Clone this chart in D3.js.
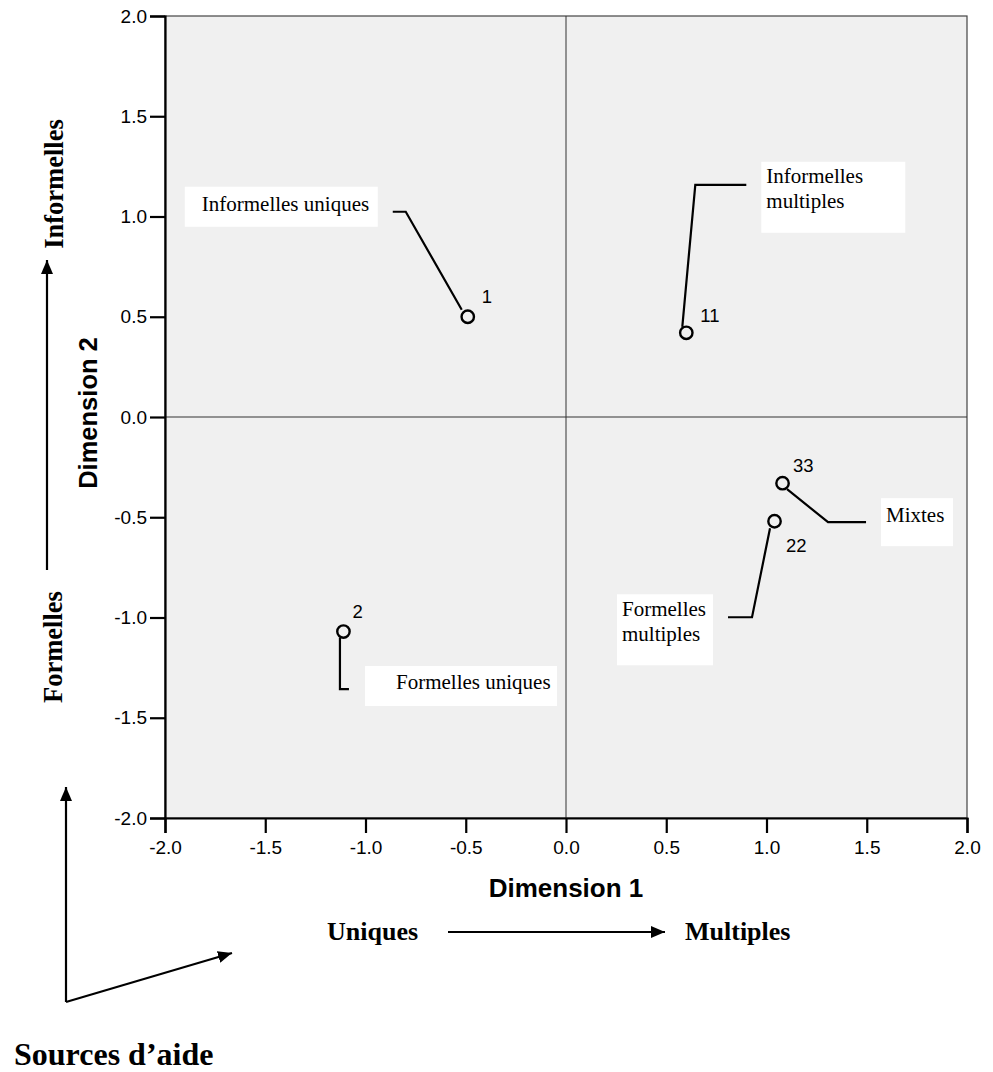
<!DOCTYPE html>
<html>
<head>
<meta charset="utf-8">
<script src="https://cdn.jsdelivr.net/npm/d3@7/dist/d3.min.js"></script>
<style>
  html, body { margin: 0; padding: 0; background: #fff; }
  svg { display: block; }
</style>
</head>
<body>
<svg id="chart" width="993" height="1072"></svg>
<script>
// Category point coordinates on the two dimensions
const pointIds = ["1", "11", "33", "22", "2"];
const dim1 = [-0.49, 0.60, 1.08, 1.04, -1.11];
const dim2 = [0.50, 0.42, -0.33, -0.52, -1.07];

// Category names shown in the callout boxes
const groupNames = [
  ["Informelles uniques"],
  ["Informelles", "multiples"],
  ["Mixtes"],
  ["Formelles", "multiples"],
  ["Formelles uniques"]
];

const tickValues = [-2.0, -1.5, -1.0, -0.5, 0.0, 0.5, 1.0, 1.5, 2.0];

// Callout layout per point (pixel offsets relative to the point)
const callouts = [
  { leader: [[-6, -7], [-62, -105], [-75, -105]], box: [-283, -130, 193, 40], text: [-266, -106], idOff: [14, -14] },
  { leader: [[-4, -6], [9, -148], [60, -148]], box: [75, -171, 144, 71], text: [80, -150], idOff: [14, -11] },
  { leader: [[4.5, 6], [45.5, 39], [83.5, 39]], box: [98.5, 15, 72, 48], text: [103.5, 39], idOff: [10.5, -11] },
  { leader: [[-4.5, 7], [-22.5, 96], [-46.5, 96]], box: [-157.5, 73, 96, 71], text: [-152.5, 95], idOff: [11.5, 31] },
  { leader: [[-3.5, 6], [-3.5, 57.5], [5.5, 57.5]], box: [21.6, 34.5, 192, 40], text: [52.6, 57.5], idOff: [9, -13.5] }
];

const svg = d3.select("#chart");
const margin = { left: 165, top: 16, right: 26, bottom: 254 };
const W = 993, H = 1072;
const plotW = W - margin.left - margin.right;
const plotH = H - margin.top - margin.bottom;

const x = d3.scaleLinear().domain([-2, 2]).range([margin.left, margin.left + plotW]);
const y = d3.scaleLinear().domain([-2, 2]).range([margin.top + plotH, margin.top]);

const sans = "Arial, 'Liberation Sans', sans-serif";
const serif = "'Times New Roman', 'Liberation Serif', serif";

// Plot background and frame
svg.append("rect")
  .attr("x", x(-2)).attr("y", y(2))
  .attr("width", plotW).attr("height", plotH)
  .attr("fill", "#f0f0f0")
  .attr("stroke", "#444").attr("stroke-width", 1.2);

// Zero reference lines
svg.append("line")
  .attr("x1", x(0)).attr("x2", x(0)).attr("y1", y(2)).attr("y2", y(-2))
  .attr("stroke", "#333").attr("stroke-width", 1);
svg.append("line")
  .attr("x1", x(-2)).attr("x2", x(2)).attr("y1", y(0)).attr("y2", y(0))
  .attr("stroke", "#333").attr("stroke-width", 1);

const fmt = d3.format(".1f");
const tickFmt = d => fmt(d).replace("\u2212", "-");

const xAxis = svg.append("g")
  .attr("transform", `translate(0,${y(-2)})`)
  .call(d3.axisBottom(x).tickValues(tickValues).tickFormat(tickFmt).tickSize(15).tickPadding(8));
const yAxis = svg.append("g")
  .attr("transform", `translate(${x(-2)},0)`)
  .call(d3.axisLeft(y).tickValues(tickValues).tickFormat(tickFmt).tickSize(15).tickPadding(3));

[xAxis, yAxis].forEach(g => {
  g.select(".domain").attr("stroke", "#000").attr("stroke-width", 2.2);
  g.selectAll(".tick line").attr("stroke", "#000").attr("stroke-width", 2.2);
  g.selectAll(".tick text")
    .attr("fill", "#000")
    .style("font-family", sans)
    .style("font-size", "19px");
});

// Axis titles
svg.append("text")
  .attr("x", x(0)).attr("y", 897)
  .attr("text-anchor", "middle")
  .style("font-family", sans)
  .style("font-size", "26px").style("font-weight", "bold")
  .text("Dimension 1");
svg.append("text")
  .attr("transform", "translate(97,413) rotate(-90)")
  .attr("text-anchor", "middle")
  .style("font-family", sans)
  .style("font-size", "25.5px").style("font-weight", "bold")
  .text("Dimension 2");

// Arrow marker
svg.append("defs").append("marker")
  .attr("id", "arrow")
  .attr("viewBox", "0 0 14 12")
  .attr("refX", 14).attr("refY", 6)
  .attr("markerWidth", 14).attr("markerHeight", 12)
  .attr("markerUnits", "userSpaceOnUse")
  .attr("orient", "auto")
  .append("path").attr("d", "M0,0 L14,6 L0,12 Z").attr("fill", "#000");

// Interpretive labels for dimension 2
svg.append("text")
  .attr("transform", "translate(63,184) rotate(-90)")
  .attr("text-anchor", "middle")
  .style("font-family", serif).style("font-size", "26.5px").style("font-weight", "bold")
  .text("Informelles");
svg.append("text")
  .attr("transform", "translate(62,647) rotate(-90)")
  .attr("text-anchor", "middle")
  .style("font-family", serif).style("font-size", "26.5px").style("font-weight", "bold")
  .text("Formelles");
svg.append("line")
  .attr("x1", 47).attr("y1", 570).attr("x2", 47).attr("y2", 260)
  .attr("stroke", "#000").attr("stroke-width", 2.2)
  .attr("marker-end", "url(#arrow)");

// Interpretive labels for dimension 1
svg.append("text")
  .attr("x", 327).attr("y", 940)
  .style("font-family", serif).style("font-size", "26px").style("font-weight", "bold")
  .text("Uniques");
svg.append("text")
  .attr("x", 685).attr("y", 940)
  .style("font-family", serif).style("font-size", "26px").style("font-weight", "bold")
  .text("Multiples");
svg.append("line")
  .attr("x1", 448).attr("y1", 932).attr("x2", 665).attr("y2", 932)
  .attr("stroke", "#000").attr("stroke-width", 2.2)
  .attr("marker-end", "url(#arrow)");

// Corner arrows and caption
svg.append("line")
  .attr("x1", 66).attr("y1", 1002).attr("x2", 66).attr("y2", 787)
  .attr("stroke", "#000").attr("stroke-width", 2.2)
  .attr("marker-end", "url(#arrow)");
svg.append("line")
  .attr("x1", 66).attr("y1", 1002).attr("x2", 232).attr("y2", 953)
  .attr("stroke", "#000").attr("stroke-width", 2.2)
  .attr("marker-end", "url(#arrow)");
svg.append("text")
  .attr("x", 14).attr("y", 1065)
  .style("font-family", serif).style("font-size", "32px").style("font-weight", "bold")
  .text("Sources d\u2019aide");

// Points with callouts
const pts = pointIds.map((id, i) => ({ id, d1: dim1[i], d2: dim2[i], names: groupNames[i], c: callouts[i] }));

const g = svg.append("g");
pts.forEach(p => {
  const px = x(p.d1), py = y(p.d2);
  const c = p.c;
  g.append("rect")
    .attr("x", px + c.box[0]).attr("y", py + c.box[1])
    .attr("width", c.box[2]).attr("height", c.box[3])
    .attr("fill", "#fff");
  const t = g.append("text")
    .attr("x", px + c.text[0]).attr("y", py + c.text[1])
    .style("font-family", serif).style("font-size", "21px").attr("fill", "#000");
  p.names.forEach((n, k) => {
    t.append("tspan").attr("x", px + c.text[0]).attr("dy", k === 0 ? 0 : 25).text(n);
  });
  g.append("path")
    .attr("d", d3.line()(c.leader.map(([dx, dy]) => [px + dx, py + dy])))
    .attr("fill", "none").attr("stroke", "#000").attr("stroke-width", 2.2);
  g.append("circle")
    .attr("cx", px).attr("cy", py).attr("r", 6.2)
    .attr("fill", "none").attr("stroke", "#000").attr("stroke-width", 2.4);
  g.append("text")
    .attr("x", px + c.idOff[0]).attr("y", py + c.idOff[1])
    .style("font-family", sans).style("font-size", "18.5px")
    .text(p.id);
});
</script>
</body>
</html>
